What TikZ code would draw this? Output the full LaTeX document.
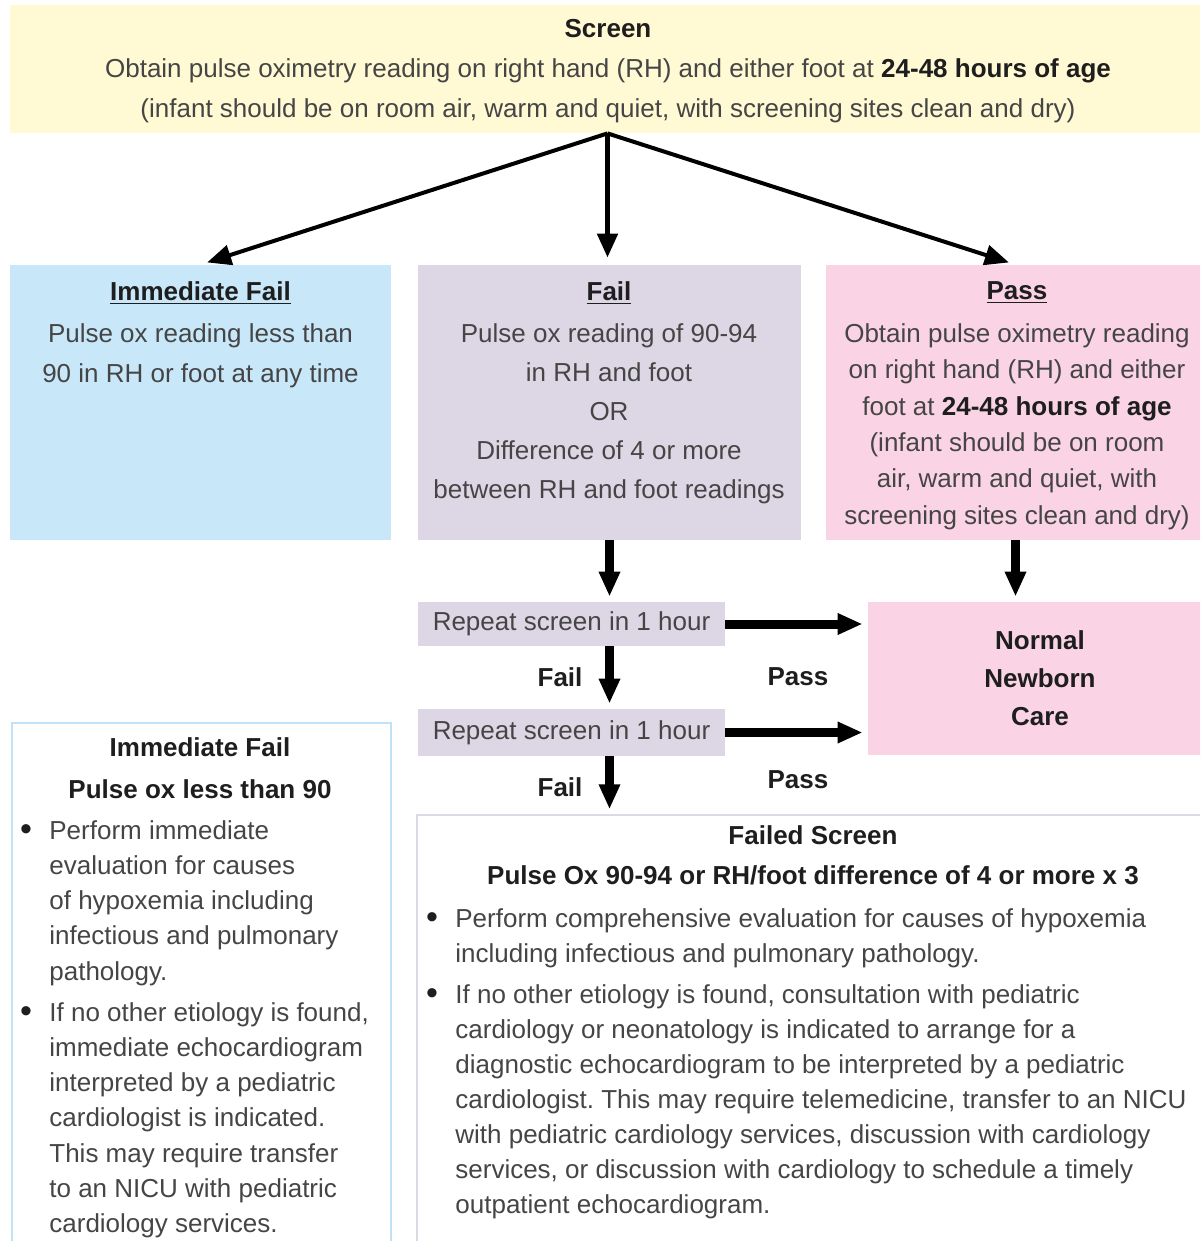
\documentclass[tikz,border=0pt]{standalone}
\usepackage{fontspec}
\setmainfont{Liberation Sans}
\usepackage{tikz}
\usetikzlibrary{arrows.meta,positioning}
\usepackage{xcolor}
\definecolor{scryellow}{HTML}{FFF9D4}
\definecolor{immblue}{HTML}{C8E8FA}
\definecolor{immline}{HTML}{BFE2F6}
\definecolor{faillav}{HTML}{DDD6E5}
\definecolor{failline}{HTML}{DCD8E4}
\definecolor{passpink}{HTML}{FAD4E4}
\definecolor{textgray}{HTML}{454545}
\definecolor{titlegray}{HTML}{1E1E1E}
\newcommand{\bt}[1]{\textcolor{titlegray}{\textbf{#1}}}
\frenchspacing
\tikzstyle{box}=[rectangle,inner sep=0pt,draw=none]
\tikzstyle{txt}=[inner sep=0pt,align=center,text=textgray,font=\fontsize{13}{20}\selectfont]
\tikzstyle{dot}=[inner sep=0pt,text=titlegray,font=\fontsize{17}{17}\selectfont]
\tikzstyle{thinarrow}=[-{Triangle[length=12pt,width=10pt]},line width=2pt,shorten >=3.5pt]
\tikzstyle{bigarrow}=[-{Triangle[length=12.5pt,width=10pt]},line width=4.5pt,shorten >=2.5pt]

\begin{document}
\begin{tikzpicture}[x=0.5pt,y=-0.5pt]
  \useasboundingbox (0,0) rectangle (1200,1241);
  \clip (0,0) rectangle (1200,1241);

  % boxes
  \node[box,fill=scryellow,minimum width=597.5pt,minimum height=64pt] (screen) at (607.5,69) {};
  \node[box,fill=immblue,minimum width=190.5pt,minimum height=137.5pt] (imm) at (200.5,402.5) {};
  \node[box,fill=faillav,minimum width=191.5pt,minimum height=137.5pt] (fail) at (609.5,402.5) {};
  \node[box,fill=passpink,minimum width=189.5pt,minimum height=137.5pt] (pass) at (1015.5,402.5) {};
  \node[box,fill=passpink,minimum width=168.5pt,minimum height=76.5pt] (nnc) at (1036.5,678.5) {};
  \node[box,fill=faillav,minimum width=153.5pt,minimum height=22pt,text=textgray,font=\fontsize{13}{14}\selectfont] (rep1) at (571.5,624) {Repeat screen in 1 hour};
  \node[box,fill=faillav,minimum width=153.5pt,minimum height=23.5pt,text=textgray,font=\fontsize{13}{14}\selectfont] (rep2) at (571.5,732.5) {Repeat screen in 1 hour};
  \node[box,draw=immline,line width=0.75pt,minimum width=189.5pt,minimum height=268.5pt] (immbot) at (201.5,991.5) {};
  \node[box,draw=failline,line width=0.75pt,minimum width=399pt,minimum height=222.5pt] (failbot) at (816,1037.5) {};

  % texts
  \node[txt,anchor=north] (screentxt) at (608,19) {\bt{Screen}\\Obtain pulse oximetry reading on right hand (RH) and either foot at \bt{24-48 hours of age}\\(infant should be on room air, warm and quiet, with screening sites clean and dry)};

  \node[txt,anchor=north] (immtitle) at (200.5,281) {\bt{\underline{Immediate Fail}}};
  \node[txt,anchor=north] (immtxt) at (200.5,323) {Pulse ox reading less than\\90 in RH or foot at any time};

  \node[txt,anchor=north] (failtitle) at (609,281) {\bt{\underline{Fail}}};
  \node[txt,anchor=north,font=\fontsize{13}{19.5}\selectfont] (failtxt) at (609,323) {Pulse ox reading of 90-94\\in RH and foot\\OR\\Difference of 4 or more\\between RH and foot readings};

  \node[txt,anchor=north] (passtitle) at (1017,281) {\bt{\underline{Pass}}};
  \node[txt,anchor=north,font=\fontsize{13}{18.2}\selectfont] (passtxt) at (1017,323) {Obtain pulse oximetry reading\\on right hand (RH) and either\\foot at \bt{24-48 hours of age}\\(infant should be on room\\air, warm and quiet, with\\screening sites clean and dry)};

  \node[txt,anchor=north,font=\fontsize{13}{19}\selectfont] (nnctxt) at (1040,630) {\bt{Normal}\\\bt{Newborn}\\\bt{Care}};

  \node[txt] (fail1) at (560,677) {\bt{Fail}};
  \node[txt] (pass1) at (798,677) {\bt{Pass}};
  \node[txt] (fail2) at (560,787) {\bt{Fail}};
  \node[txt] (pass2) at (798,780) {\bt{Pass}};

  \node[txt,anchor=north,font=\fontsize{13}{21}\selectfont] (immbottitle) at (200,737) {\bt{Immediate Fail}\\\bt{Pulse ox less than 90}};
  \node[dot] (immdot1) at (26,833) {\textbullet};
  \node[txt,anchor=north west,align=left,font=\fontsize{13}{17.6}\selectfont] (immitem1) at (49,820) {Perform immediate\\evaluation for causes\\of hypoxemia including\\infectious and pulmonary\\pathology.};
  \node[dot] (immdot2) at (26,1015) {\textbullet};
  \node[txt,anchor=north west,align=left,font=\fontsize{13}{17.6}\selectfont] (immitem2) at (49,1002) {If no other etiology is found,\\immediate echocardiogram\\interpreted by a pediatric\\cardiologist is indicated.\\This may require transfer\\to an NICU with pediatric\\cardiology services.};

  \node[txt,anchor=north] (failbottitle) at (813,825) {\bt{Failed Screen}\\\bt{Pulse Ox 90-94 or RH/foot difference of 4 or more x 3}};
  \node[dot] (faildot1) at (432,921) {\textbullet};
  \node[txt,anchor=north west,align=left,font=\fontsize{13}{17.5}\selectfont] (failitem1) at (455,908) {Perform comprehensive evaluation for causes of hypoxemia\\including infectious and pulmonary pathology.};
  \node[dot] (faildot2) at (432,997) {\textbullet};
  \node[txt,anchor=north west,align=left,font=\fontsize{13}{17.5}\selectfont] (failitem2) at (455,984) {If no other etiology is found, consultation with pediatric\\cardiology or neonatology is indicated to arrange for a\\diagnostic echocardiogram to be interpreted by a pediatric\\cardiologist. This may require telemedicine, transfer to an NICU\\with pediatric cardiology services, discussion with cardiology\\services, or discussion with cardiology to schedule a timely\\outpatient echocardiogram.};

  % arrows
  \draw[thinarrow] (screen.south) -- (imm.north);
  \draw[thinarrow,line width=2.5pt] (screen.south) -- (screen.south |- fail.north);
  \draw[thinarrow] (screen.south) -- (pass.north);
  \draw[bigarrow] (fail.south) -- (fail.south |- rep1.north);
  \draw[bigarrow] (pass.south) -- (pass.south |- nnc.north);
  \draw[bigarrow] (rep1.east) -- (rep1.east -| nnc.west);
  \draw[bigarrow] (fail.south |- rep1.south) -- (fail.south |- rep2.north);
  \draw[bigarrow] (rep2.east) -- (rep2.east -| nnc.west);
  \draw[bigarrow] (fail.south |- rep2.south) -- (fail.south |- failbot.north);

\end{tikzpicture}
\end{document}
